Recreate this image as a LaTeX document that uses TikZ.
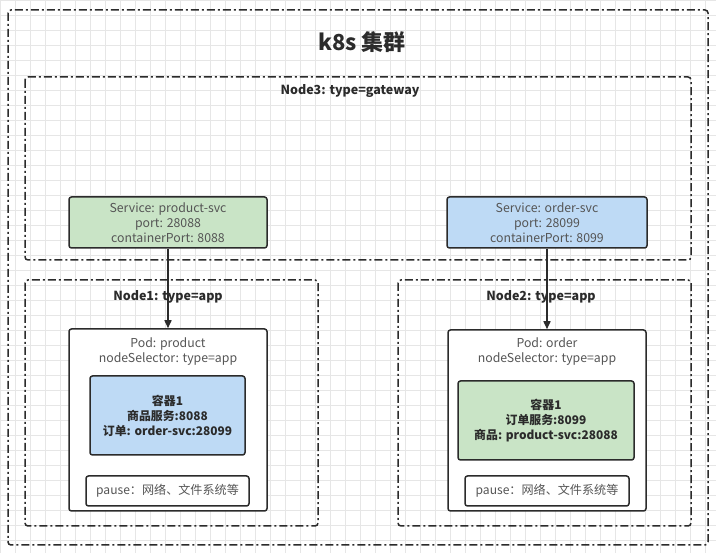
\documentclass[tikz,border=0pt]{standalone}
\usepackage{fontspec}
\setmainfont{Noto Sans CJK SC}
\usetikzlibrary{arrows.meta}
\definecolor{ink}{HTML}{2B2B2B}
\definecolor{txtgray}{HTML}{555555}
\definecolor{gridc}{HTML}{E6E6E6}
\definecolor{greenf}{HTML}{C9E4C6}
\definecolor{bluef}{HTML}{BEDAF5}
\tikzset{
  dashbox/.style={draw=ink, line width=1.5pt, rounded corners=3pt,
    dash pattern=on 8pt off 3pt on 2pt off 3pt},
  solidbox/.style={draw=ink, line width=1.5pt, rounded corners=2.5pt},
  lbl/.style={text=ink, font=\bfseries\fontsize{12.5}{14}\selectfont, inner sep=0pt},
  svctxt/.style={text=txtgray, align=center, font=\fontsize{12.3}{15}\selectfont, inner sep=0pt},
  ctrtxt/.style={text=ink, align=center, font=\bfseries\fontsize{11.9}{15}\selectfont, inner sep=0pt},
  pausetxt/.style={text=txtgray, font=\fontsize{12.1}{14}\selectfont},
  conn/.style={draw=ink, line width=1.5pt, -{Triangle[length=8pt,width=7pt]}},
}
\begin{document}
\begin{tikzpicture}[x=1pt,y=-1pt]
\useasboundingbox (0,0) rectangle (716,553);
\fill[white] (0,0) rectangle (716,553);
\draw[gridc, line width=0.6pt, step=15pt] (0,0) grid (716,553);
% outer cluster
\draw[dashbox] (8,10) rectangle (708,545);
\node[text=ink, font=\bfseries\fontsize{22}{24}\selectfont, inner sep=0pt] (title) at (362,42) {k8s 集群};
% Node3
\draw[dashbox] (25,77) rectangle (691,260);
\node[lbl] (n3lbl) at (350,91) {Node3: type=gateway};
% Node1 and Node2
\draw[dashbox] (25,280) rectangle (318,526);
\node[lbl] (n1lbl) at (168,297) {Node1: type=app};
\draw[dashbox] (398,280) rectangle (691,526);
\node[lbl] (n2lbl) at (541,297) {Node2: type=app};
% services
\node[solidbox, fill=greenf, minimum width=198pt, minimum height=51pt, inner sep=0pt] (psvc) at (168,222.5) {};
\node[svctxt] at (psvc.center) {Service: product-svc\\port: 28088\\containerPort: 8088};
\node[solidbox, fill=bluef, minimum width=200pt, minimum height=51pt, inner sep=0pt] (osvc) at (547,222.5) {};
\node[svctxt] at (osvc.center) {Service: order-svc\\port: 28099\\containerPort: 8099};
% pods
\node[solidbox, fill=white, minimum width=198pt, minimum height=182pt, inner sep=0pt] (ppod) at (168,420) {};
\node[svctxt] (ppodtxt) at (168,351.5) {Pod: product\\nodeSelector: type=app};
\node[solidbox, fill=white, minimum width=198pt, minimum height=181pt, inner sep=0pt] (opod) at (547,420.5) {};
\node[svctxt] (opodtxt) at (547,351.5) {Pod: order\\nodeSelector: type=app};
% containers
\node[solidbox, fill=bluef, minimum width=155pt, minimum height=79pt, inner sep=0pt] (pctr) at (167.5,415.5) {};
\node[ctrtxt] at (pctr.center) {容器1\\商品服务:8088\\订单: order-svc:28099};
\node[solidbox, fill=greenf, minimum width=176pt, minimum height=79pt, inner sep=0pt] (octr) at (546,420.5) {};
\node[ctrtxt] at (octr.center) {容器1\\订单服务:8099\\商品: product-svc:28088};
% pause
\node[solidbox, fill=white, minimum width=163pt, minimum height=30pt, inner sep=0pt, pausetxt] (ppause) at (167.5,491) {pause：网络、文件系统等};
\node[solidbox, fill=white, minimum width=164pt, minimum height=30pt, inner sep=0pt, pausetxt] (opause) at (547,491) {pause：网络、文件系统等};
% connectors
\draw[conn] (psvc.south) -- (ppod.north);
\draw[conn] (osvc.south) -- (opod.north);
\end{tikzpicture}
\end{document}
